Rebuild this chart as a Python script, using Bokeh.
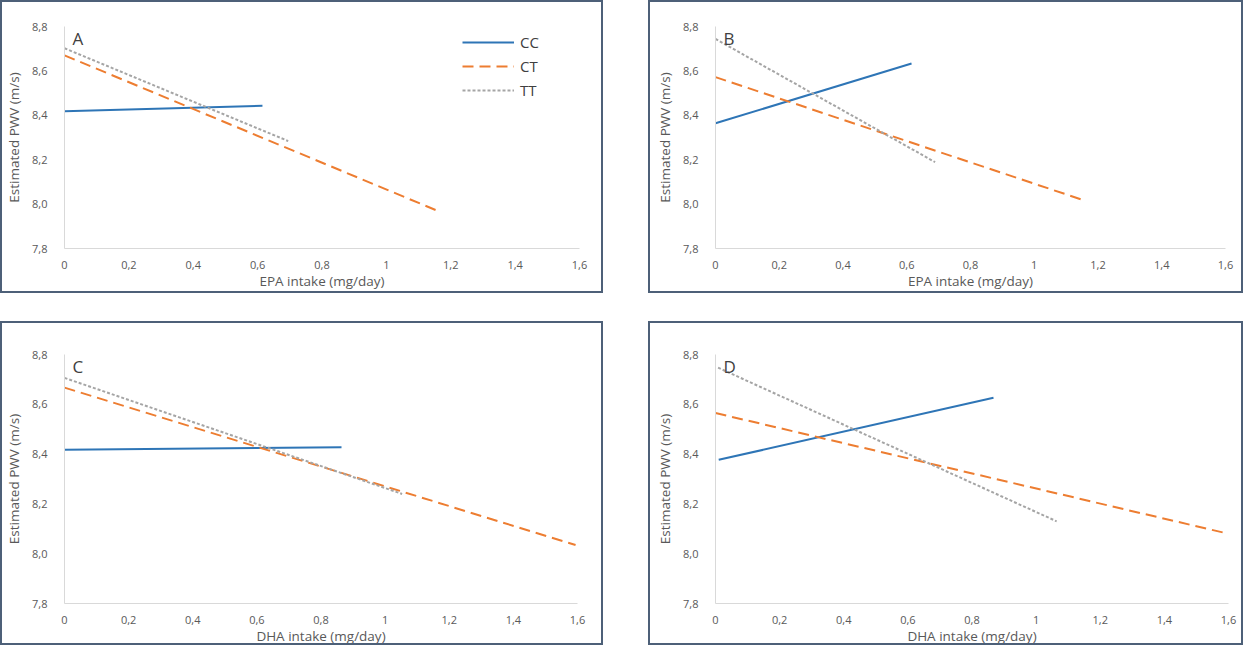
from bokeh.plotting import figure
from bokeh.layouts import column, row
from bokeh.models import FixedTicker, Legend, LegendItem, Label, Spacer
from bokeh.embed import file_html
from bokeh.resources import INLINE

# ---- data ----
x_ticks = [0, 0.2, 0.4, 0.6, 0.8, 1.0, 1.2, 1.4, 1.6]
x_tick_labels = ["0", "0,2", "0,4", "0,6", "0,8", "1", "1,2", "1,4", "1,6"]
y_ticks = [7.8, 8.0, 8.2, 8.4, 8.6, 8.8]
y_tick_labels = ["7,8", "8,0", "8,2", "8,4", "8,6", "8,8"]
series_names = ["CC", "CT", "TT"]

# panel A: EPA intake
a_cc_x = [0.0, 0.615]
a_cc_y = [8.418, 8.443]
a_ct_x = [0.0, 1.162]
a_ct_y = [8.670, 7.968]
a_tt_x = [0.0, 0.695]
a_tt_y = [8.702, 8.284]

# panel B: EPA intake
b_cc_x = [0.0, 0.615]
b_cc_y = [8.364, 8.633]
b_ct_x = [0.0, 1.156]
b_ct_y = [8.572, 8.017]
b_tt_x = [0.0, 0.689]
b_tt_y = [8.744, 8.189]

# panel C: DHA intake
c_cc_x = [0.0, 0.864]
c_cc_y = [8.417, 8.428]
c_ct_x = [0.0, 1.594]
c_ct_y = [8.667, 8.035]
c_tt_x = [0.0, 1.053]
c_tt_y = [8.706, 8.240]

# panel D: DHA intake
d_cc_x = [0.01, 0.867]
d_cc_y = [8.377, 8.626]
d_ct_x = [0.0, 1.6]
d_ct_y = [8.565, 8.080]
d_tt_x = [0.008, 1.064]
d_tt_y = [8.747, 8.130]

colors = {"CC": "#2e75b6", "CT": "#ed7d31", "TT": "#a5a5a5"}
dashes = {"CC": "solid", "CT": "11 6", "TT": "3 2"}

FONT = "Open Sans"
TXT = "#595959"


def make_panel(letter, xlabel, data, width, height, mb, legend=False):
    left, right, top, bottom = mb
    p = figure(width=width, height=height, output_backend="svg",
               toolbar_location=None, x_range=(0, 1.6), y_range=(7.8, 8.8),
               min_border_left=left, min_border_right=right,
               min_border_top=top, min_border_bottom=bottom)
    p.styles = {"border": "2px solid #4d6078", "box-sizing": "border-box"}
    p.outline_line_color = None
    p.xgrid.visible = False
    p.ygrid.visible = False
    p.background_fill_color = "white"
    p.border_fill_color = "white"

    for ax in (p.xaxis[0], p.yaxis[0]):
        ax.axis_line_color = "#d9d9d9"
        ax.axis_line_width = 1
        ax.major_tick_line_color = None
        ax.minor_tick_line_color = None
        ax.major_label_text_font = FONT
        ax.major_label_text_font_size = "11px"
        ax.major_label_text_color = TXT
        ax.axis_label_text_font = FONT
        ax.axis_label_text_font_size = "13.5px"
        ax.axis_label_text_color = TXT
        ax.axis_label_text_font_style = "normal"

    p.xaxis.ticker = FixedTicker(ticks=x_ticks)
    p.xaxis.major_label_overrides = {t: l for t, l in zip(x_ticks, x_tick_labels)}
    p.yaxis.ticker = FixedTicker(ticks=y_ticks)
    p.yaxis.major_label_overrides = {t: l for t, l in zip(y_ticks, y_tick_labels)}
    p.xaxis.axis_label = xlabel
    p.yaxis.axis_label = "Estimated PWV (m/s)"
    p.xaxis.major_label_standoff = 6
    p.xaxis.axis_label_standoff = 0
    p.yaxis.major_label_standoff = 11
    p.yaxis.axis_label_standoff = 6

    renderers = {}
    for name in series_names:
        xs, ys = data[name]
        renderers[name] = p.line(xs, ys, line_color=colors[name], line_width=2,
                                 line_dash=dashes[name])

    p.add_layout(Label(x=0.025, y=8.8, text=letter, text_font=FONT,
                       text_font_size="17px", text_color="#404040",
                       text_baseline="top", text_align="left"))

    if legend:
        items = [LegendItem(label=n, renderers=[renderers[n]]) for n in series_names]
        lg = Legend(items=items, location=(398, 148), padding=0,
                    glyph_width=52, glyph_height=20, label_height=20,
                    spacing=4, label_standoff=6,
                    label_text_font=FONT, label_text_font_size="15px",
                    label_text_color="#404040",
                    background_fill_alpha=0, border_line_color=None)
        p.add_layout(lg)
    return p


pa = make_panel("A", "EPA intake (mg/day)",
                {"CC": (a_cc_x, a_cc_y), "CT": (a_ct_x, a_ct_y), "TT": (a_tt_x, a_tt_y)},
                603, 293, (60, 26, 22, 46), legend=True)
pb = make_panel("B", "EPA intake (mg/day)",
                {"CC": (b_cc_x, b_cc_y), "CT": (b_ct_x, b_ct_y), "TT": (b_tt_x, b_tt_y)},
                595, 293, (65, 20, 24, 47))
pc = make_panel("C", "DHA intake (mg/day)",
                {"CC": (c_cc_x, c_cc_y), "CT": (c_ct_x, c_ct_y), "TT": (c_tt_x, c_tt_y)},
                603, 324, (62, 28, 28, 41))
pd_ = make_panel("D", "DHA intake (mg/day)",
                 {"CC": (d_cc_x, d_cc_y), "CT": (d_ct_x, d_ct_y), "TT": (d_tt_x, d_tt_y)},
                 595, 324, (65, 17, 31, 40))

layout = column(row(pa, Spacer(width=45), pb),
                Spacer(height=28),
                row(pc, Spacer(width=45), pd_))

open("out.html", "w").write(file_html(layout, INLINE))
